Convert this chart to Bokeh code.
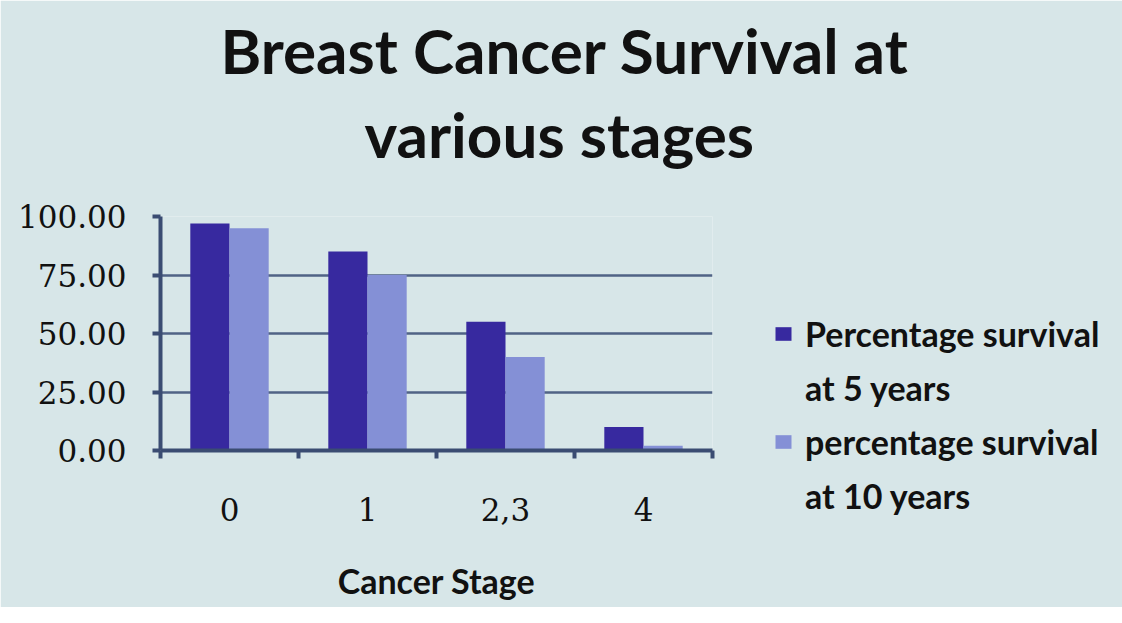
import numpy as np
from bokeh.plotting import figure
from bokeh.models import (Title, Legend, LegendItem, FixedTicker, Range1d,
                          ColumnDataSource, CustomJSTickFormatter)
from bokeh.embed import file_html
from bokeh.resources import INLINE

# ---- data ----
stages = ["0", "1", "2,3", "4"]
surv_5yr = [97, 85, 55, 10]
surv_10yr = [95, 75, 40, 2]
y_ticks = [0, 25, 50, 75, 100]
title_lines = ["Breast Cancer Survival at", "various stages"]
legend_first = ["Percentage survival", "percentage survival"]
legend_second = ["at 5 years", "at 10 years"]

BG = "#d7e6e8"
DARK = "#37299f"
LIGHT = "#8490d6"
AXIS = "#3a4c72"
GRID = "#506385"
TXT = "#111111"

p = figure(frame_width=552, frame_height=234, output_backend="svg", toolbar_location=None,
           x_range=Range1d(0, len(stages)), y_range=Range1d(0, 100),
           min_border_left=160, min_border_right=0, min_border_top=216,
           min_border_bottom=157, title=None)
p.background_fill_color = BG
p.border_fill_color = BG
p.outline_line_color = None

idx = np.arange(len(stages)) + 0.5
src = ColumnDataSource(dict(x5=idx - 0.142, x10=idx + 0.142,
                            y5=surv_5yr, y10=surv_10yr))
r5 = p.vbar(x="x5", top="y5", width=0.284, source=src, fill_color=DARK, line_color=None)
r10 = p.vbar(x="x10", top="y10", width=0.284, source=src, fill_color=LIGHT, line_color=None)

# y axis
p.yaxis.ticker = FixedTicker(ticks=y_ticks)
p.yaxis.formatter = CustomJSTickFormatter(code="return tick.toFixed(2);")
p.yaxis.axis_line_color = AXIS
p.yaxis.axis_line_width = 4
p.yaxis.major_tick_line_color = AXIS
p.yaxis.major_tick_line_width = 4
p.yaxis.major_tick_out = 8
p.yaxis.major_tick_in = 0
p.yaxis.minor_tick_line_color = None
p.yaxis.major_label_text_font = "DejaVu Serif"
p.yaxis.major_label_text_font_size = "31px"
p.yaxis.major_label_text_color = TXT
p.yaxis.major_label_standoff = 26

# x axis
p.xaxis.ticker = FixedTicker(ticks=list(idx), minor_ticks=list(range(len(stages) + 1)))
p.xaxis.major_label_overrides = {float(v): s for v, s in zip(idx, stages)}
p.xaxis.axis_line_color = AXIS
p.xaxis.axis_line_width = 4
p.xaxis.major_tick_line_color = None
p.xaxis.minor_tick_line_color = AXIS
p.xaxis.minor_tick_line_width = 4
p.xaxis.minor_tick_out = 8
p.xaxis.minor_tick_in = 0
p.xaxis.major_label_text_font = "DejaVu Serif"
p.xaxis.major_label_text_font_size = "31px"
p.xaxis.major_label_text_color = TXT
p.xaxis.major_label_standoff = 39
p.xaxis.axis_label = "Cancer Stage"
p.xaxis.axis_label_text_font = "Lato"
p.xaxis.axis_label_text_font_style = "bold"
p.xaxis.axis_label_text_font_size = "34px"
p.xaxis.axis_label_text_color = TXT
p.xaxis.axis_label_standoff = 36

# grid
p.xgrid.grid_line_color = None
p.ygrid.ticker = FixedTicker(ticks=y_ticks)
p.ygrid.grid_line_color = GRID
p.ygrid.grid_line_width = 2.5

# title: two stacked titles above the frame
p.add_layout(Title(text=title_lines[1], align="left", offset=204, standoff=91,
                   text_font="Lato", text_font_style="bold",
                   text_font_size="62px", text_color=TXT), "above")
p.add_layout(Title(text=title_lines[0], align="left", offset=60, standoff=-74,
                   text_font="Lato", text_font_style="bold",
                   text_font_size="62px", text_color=TXT), "above")

legend = Legend(items=[LegendItem(label=legend_first[0], renderers=[r5]),
                       LegendItem(label=legend_second[0], renderers=[]),
                       LegendItem(label=legend_first[1], renderers=[r10]),
                       LegendItem(label=legend_second[1], renderers=[])],
                location=(61, -66), orientation="vertical")
legend.background_fill_alpha = 0
legend.border_line_color = None
legend.label_text_font = "Lato"
legend.label_text_font_style = "bold"
legend.label_text_font_size = "34px"
legend.label_text_color = TXT
legend.glyph_width = 20
legend.glyph_height = 17
legend.label_standoff = 12
legend.spacing = 13
legend.padding = 0
legend.margin = 0
p.add_layout(legend, "right")

open("out.html", "w").write(file_html(p, INLINE))
